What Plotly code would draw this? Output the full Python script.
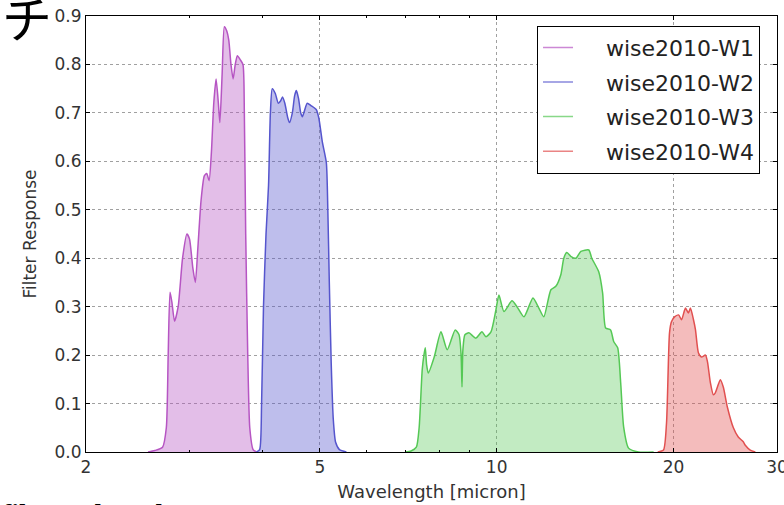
import plotly.graph_objects as go

# ---- data (wavelength in micron, filter response) ----
w1_wave = [2.55, 2.62, 2.70, 2.74, 2.76, 2.78, 2.80, 2.83, 2.87, 2.92, 2.97, 3.00, 3.04, 3.07,
           3.10, 3.14, 3.18, 3.21, 3.24, 3.27, 3.30, 3.33, 3.36, 3.38, 3.41, 3.44, 3.47, 3.50,
           3.53, 3.56, 3.59, 3.62, 3.66, 3.70, 3.72, 3.74, 3.77, 3.80, 3.85, 3.90]
w1_resp = [0.0, 0.003, 0.01, 0.05, 0.2, 0.33, 0.31, 0.27, 0.30, 0.40, 0.45, 0.44, 0.38, 0.35,
           0.42, 0.52, 0.57, 0.575, 0.56, 0.62, 0.72, 0.77, 0.72, 0.68, 0.78, 0.878, 0.87, 0.85,
           0.80, 0.77, 0.80, 0.818, 0.81, 0.80, 0.70, 0.45, 0.20, 0.05, 0.005, 0.0]

w2_wave = [3.90, 3.95, 3.98, 4.01, 4.05, 4.09, 4.12, 4.15, 4.20, 4.25, 4.29, 4.32, 4.36, 4.41,
           4.44, 4.49, 4.53, 4.56, 4.60, 4.64, 4.67, 4.71, 4.76, 4.83, 4.93, 4.98, 5.05, 5.13,
           5.16, 5.19, 5.23, 5.27, 5.32, 5.40, 5.55]
w2_resp = [0.0, 0.005, 0.1, 0.3, 0.45, 0.55, 0.70, 0.75, 0.74, 0.72, 0.725, 0.733, 0.72, 0.69,
           0.68, 0.70, 0.735, 0.746, 0.73, 0.70, 0.692, 0.705, 0.72, 0.715, 0.707, 0.69, 0.64, 0.597,
           0.5, 0.35, 0.18, 0.07, 0.02, 0.005, 0.0]

w3_wave = [7.0, 7.15, 7.30, 7.38, 7.47, 7.52, 7.56, 7.60, 7.65, 7.83, 8.04, 8.24, 8.50, 8.63,
           8.70, 8.73, 8.76, 8.83, 8.97, 9.22, 9.44, 9.59, 9.78, 9.97, 10.09, 10.29, 10.62, 10.83,
           11.13, 11.53, 11.80, 12.03, 12.37, 12.61, 12.86, 13.01, 13.16, 13.37, 13.64, 13.91,
           14.35, 14.52, 14.92, 15.15, 15.33, 15.63, 15.82, 16.07, 16.26, 16.45, 16.77, 17.44, 18.5]
w3_resp = [0.0, 0.002, 0.01, 0.05, 0.17, 0.20, 0.215, 0.18, 0.163, 0.196, 0.248, 0.211, 0.252, 0.242,
           0.20, 0.134, 0.21, 0.242, 0.246, 0.235, 0.248, 0.238, 0.248, 0.293, 0.324, 0.29, 0.312, 0.30,
           0.279, 0.318, 0.297, 0.279, 0.335, 0.342, 0.366, 0.40, 0.412, 0.404, 0.40, 0.414,
           0.417, 0.40, 0.372, 0.328, 0.256, 0.252, 0.228, 0.215, 0.143, 0.052, 0.008, 0.0, 0.0]

w4_wave = [18.8, 19.23, 19.46, 19.69, 19.84, 20.08, 20.40, 20.64, 20.96, 21.20, 21.37, 21.63,
           21.80, 22.05, 22.32, 22.67, 22.85, 23.11, 23.38, 23.56, 24.03, 24.31, 24.70, 25.29,
           25.78, 26.29, 26.50, 27.02, 27.56]
w4_resp = [0.0, 0.004, 0.06, 0.246, 0.269, 0.279, 0.283, 0.273, 0.297, 0.287, 0.297, 0.273,
           0.252, 0.205, 0.196, 0.20, 0.186, 0.143, 0.118, 0.122, 0.149, 0.134, 0.093, 0.05,
           0.031, 0.021, 0.014, 0.004, 0.0]

names = ["wise2010-W1", "wise2010-W2", "wise2010-W3", "wise2010-W4"]
x_ticks = [2, 5, 10, 20, 30]
x_minor = [3, 4, 6, 7, 8, 9]
y_ticks = [0.0, 0.1, 0.2, 0.3, 0.4, 0.5, 0.6, 0.7, 0.8, 0.9]

series = [(w1_wave, w1_resp), (w2_wave, w2_resp), (w3_wave, w3_resp), (w4_wave, w4_resp)]
line_cols = ["rgb(182,85,195)", "rgb(85,85,205)", "rgb(85,200,85)", "rgb(225,80,80)"]
fill_cols = ["rgba(182,85,195,0.38)", "rgba(85,85,205,0.38)", "rgba(85,200,85,0.36)", "rgba(225,80,80,0.38)"]
legend_cols = ["rgba(182,85,195,0.7)", "rgba(85,85,205,0.7)", "rgba(85,200,85,0.7)", "rgba(225,80,80,0.7)"]

fig = go.Figure()
for (wx, wy), lc, fc, nm in zip(series, line_cols, fill_cols, names):
    fig.add_trace(go.Scatter(x=wx, y=wy, mode="lines", fill="tozeroy", fillcolor=fc,
                             line=dict(color=lc, width=1.5, shape="spline", smoothing=0.6),
                             showlegend=False, hoverinfo="skip"))
pad = "\u00a0" * 4
for gc, nm in zip(legend_cols, names):
    fig.add_trace(go.Scatter(x=[None], y=[None], mode="lines", name=pad + nm, legendgroup=nm,
                             line=dict(color=gc, width=1.5)))

axis_common = dict(showline=True, linecolor="black", linewidth=1, mirror="allticks",
                   ticks="inside", ticklen=4, tickcolor="black", automargin=False,
                   showgrid=True, gridcolor="#a0a0a0", griddash="3px,3px", gridwidth=1,
                   zeroline=False, tickfont=dict(family="DejaVu Sans", size=17, color="#333"))

fig.update_layout(
    width=784, height=505,
    margin=dict(l=86, r=7, t=16, b=53),
    paper_bgcolor="white", plot_bgcolor="white",
    xaxis=dict(type="log", range=[0.30103, 1.4772], tickvals=x_ticks,
               ticktext=[str(v) for v in x_ticks], ticklabeloverflow="allow",
               minor=dict(tickvals=x_minor, ticks="inside", ticklen=2, tickcolor="black", showgrid=False),
               title=dict(text="Wavelength [micron]", font=dict(family="DejaVu Sans", size=18, color="#333"), standoff=8),
               **axis_common),
    yaxis=dict(range=[0, 0.9], tickvals=y_ticks, ticktext=["%.1f" % v for v in y_ticks],
               title=dict(text="Filter Response", font=dict(family="DejaVu Sans", size=17, color="#333"), standoff=13),
               **axis_common),
    legend=dict(x=0.6527, y=0.978, xanchor="left", yanchor="top", bgcolor="white",
                bordercolor="black", borderwidth=1, traceorder="grouped", tracegroupgap=3,
                font=dict(family="DejaVu Sans", size=22, color="#222")),
    showlegend=True,
)

fig.add_annotation(text="チ", xref="paper", yref="paper", x=-0.086, y=1.0, xanchor="center", yanchor="middle",
                   showarrow=False, font=dict(family="Noto Sans CJK JP", size=50, color="black"))
fig.add_annotation(text="<b>filters plotted</b>", xref="paper", yref="paper", x=-0.124, y=-0.1, xanchor="left",
                   yanchor="top", showarrow=False,
                   font=dict(family="Liberation Serif", size=28, color="black"))

fig.write_html("out.html")
